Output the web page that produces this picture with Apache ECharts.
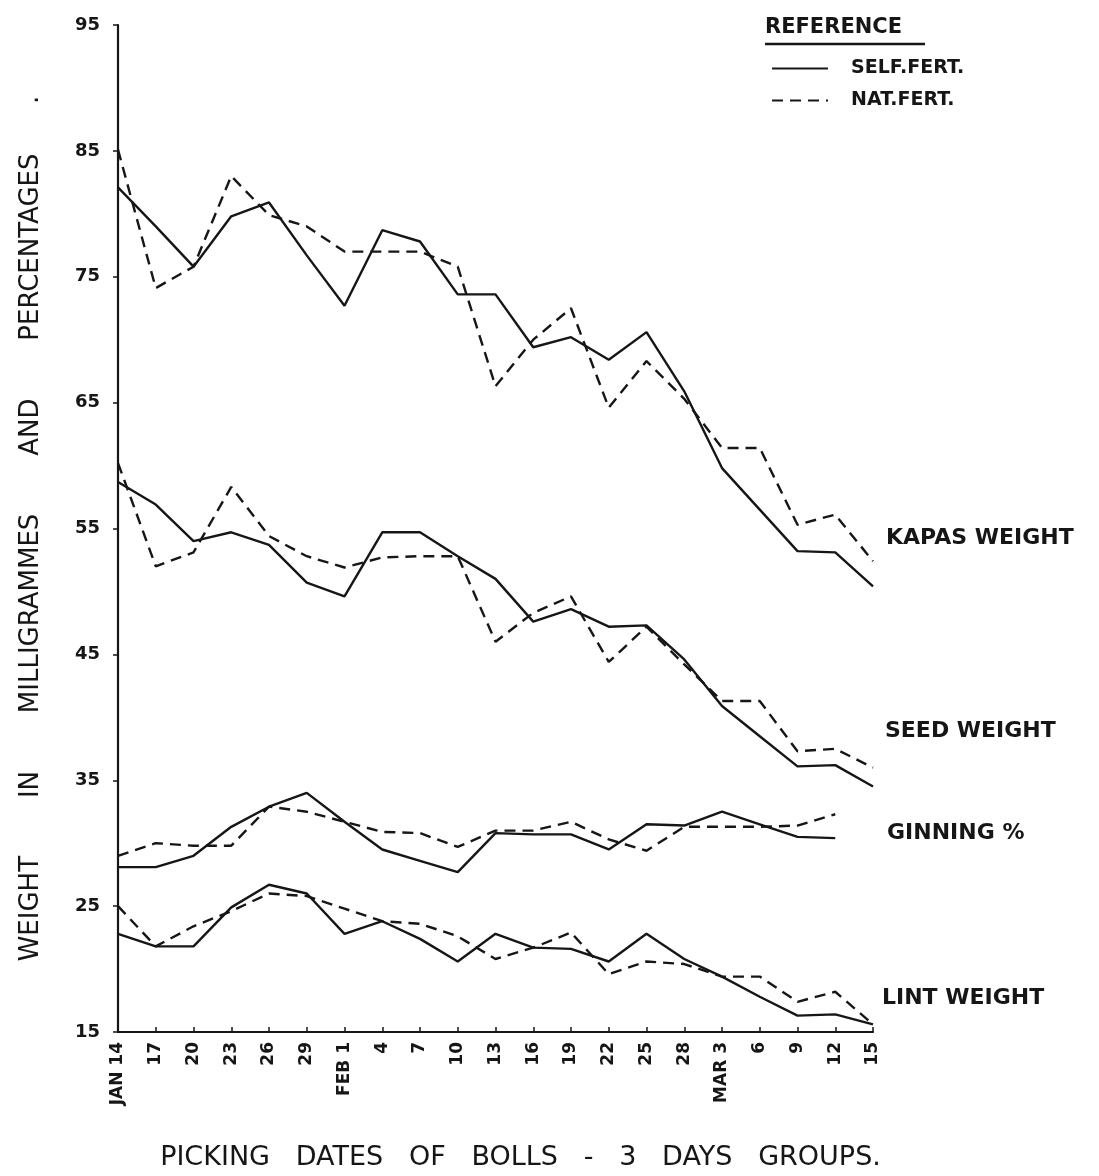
<!DOCTYPE html>
<html>
<head>
<meta charset="utf-8">
<script src="https://cdn.jsdelivr.net/npm/echarts@6/dist/echarts.min.js"></script>
<style>
  html, body { margin: 0; padding: 0; background: #fff; }
  #chart { width: 1099px; height: 1176px; }
</style>
</head>
<body>
<div id="chart"></div>
<script>
// ---- data ----
const categories = ['JAN 14','17','20','23','26','29','FEB 1','4','7','10','13','16','19','22','25','28','MAR 3','6','9','12','15'];
const yTicks = [15, 25, 35, 45, 55, 65, 75, 85, 95];

const kapasSelf = [82.1, 79.0, 75.8, 79.8, 80.9, 76.7, 72.7, 78.7, 77.8, 73.6, 73.6, 69.4, 70.2, 68.4, 70.6, 65.9, 59.8, 56.5, 53.2, 53.1, 50.4];
const kapasNat  = [85.1, 74.1, 75.8, 83.0, 79.9, 79.0, 77.0, 77.0, 77.0, 75.8, 66.3, 70.0, 72.5, 64.6, 68.3, 65.3, 61.4, 61.4, 55.3, 56.1, 52.4];

const seedSelf = [58.7, 56.9, 54.0, 54.7, 53.7, 50.7, 49.6, 54.7, 54.7, 52.8, 51.0, 47.6, 48.6, 47.2, 47.3, 44.6, 40.9, 38.5, 36.1, 36.2, 34.5];
const seedNat  = [60.2, 52.0, 53.1, 58.3, 54.4, 52.8, 51.9, 52.7, 52.8, 52.8, 46.0, 48.3, 49.6, 44.4, 47.2, 44.2, 41.3, 41.3, 37.3, 37.5, 36.0];

const ginningSelf = [28.1, 28.1, 29.0, 31.3, 32.9, 34.0, 31.7, 29.5, 28.6, 27.7, 30.8, 30.7, 30.7, 29.5, 31.5, 31.4, 32.5, 31.5, 30.5, 30.4];
const ginningNat  = [29.0, 30.0, 29.8, 29.8, 32.9, 32.5, 31.7, 30.9, 30.8, 29.7, 31.0, 31.0, 31.7, 30.3, 29.4, 31.3, 31.3, 31.3, 31.4, 32.3];

const lintSelf = [22.8, 21.8, 21.8, 24.9, 26.7, 26.0, 22.8, 23.8, 22.4, 20.6, 22.8, 21.7, 21.6, 20.6, 22.8, 20.8, 19.4, 17.8, 16.3, 16.4, 15.6];
const lintNat  = [25.0, 21.8, 23.4, 24.6, 26.0, 25.8, 24.8, 23.8, 23.6, 22.6, 20.8, 21.7, 22.9, 19.6, 20.6, 20.4, 19.4, 19.4, 17.4, 18.2, 15.6];

const selfName = 'SELF.FERT.';
const natName = 'NAT.FERT.';
const legendTitle = 'REFERENCE';
const curveLabels = ['KAPAS WEIGHT', 'SEED WEIGHT', 'GINNING %', 'LINT WEIGHT'];
const xTitle = 'PICKING   DATES   OF   BOLLS   -   3   DAYS   GROUPS.';
const yTitle = 'WEIGHT       IN       MILLIGRAMMES       AND       PERCENTAGES      .';

// ---- chart ----
const INK = '#161616';
const FONT = '"DejaVu Sans", "Liberation Sans", sans-serif';

function lineSeries(name, data, dashed) {
  return {
    name: name,
    type: 'line',
    data: data,
    symbol: 'none',
    smooth: false,
    lineStyle: { color: INK, width: 2.4, type: dashed ? [11, 7] : 'solid' },
    itemStyle: { color: INK },
    z: 3
  };
}

function label(text, left, cy, size) {
  return {
    type: 'text', left: left, top: cy - size * 0.6,
    style: { text: text, fill: INK, font: 'bold ' + size + 'px ' + FONT }
  };
}

const chart = echarts.init(document.getElementById('chart'), null, { renderer: 'canvas' });

const option = {
  backgroundColor: '#ffffff',
  animation: false,
  grid: { left: 118, top: 25, right: 226, bottom: 143, containLabel: false },
  legend: {
    data: [selfName, natName],
    orient: 'vertical',
    left: 766,
    top: 54,
    itemWidth: 56,
    itemHeight: 14,
    itemGap: 13,
    itemStyle: { opacity: 0 },
    textStyle: { color: INK, fontSize: 19, fontWeight: 'bold', fontFamily: FONT, padding: [0, 0, 0, 18] }
  },
  xAxis: {
    type: 'category',
    data: categories,
    boundaryGap: false,
    name: xTitle,
    nameLocation: 'middle',
    nameGap: 112,
    nameTextStyle: { color: INK, fontSize: 27, fontFamily: FONT, padding: [0, 0, 0, 50] },
    axisLine: { lineStyle: { color: INK, width: 2.2 } },
    axisTick: { show: true, inside: true, length: 5, alignWithLabel: true, lineStyle: { color: INK, width: 1.5 } },
    axisLabel: { rotate: 90, margin: 10, color: INK, fontSize: 17, fontWeight: 'bold', fontFamily: FONT, interval: 0 },
    splitLine: { show: false }
  },
  yAxis: {
    type: 'value',
    min: yTicks[0],
    max: yTicks[yTicks.length - 1],
    interval: yTicks[1] - yTicks[0],
    name: yTitle,
    nameLocation: 'middle',
    nameGap: 74,
    nameRotate: 90,
    nameTextStyle: { color: INK, fontSize: 26, fontFamily: FONT },
    axisLine: { show: true, lineStyle: { color: INK, width: 2.2 } },
    axisTick: { show: true, length: 5, lineStyle: { color: INK, width: 1.5 } },
    axisLabel: { margin: 18, color: INK, fontSize: 18, fontWeight: 'bold', fontFamily: FONT },
    splitLine: { show: false }
  },
  graphic: [
    label(legendTitle, 765, 30, 21),
    { type: 'line', shape: { x1: 765, y1: 44, x2: 925, y2: 44 }, style: { stroke: INK, lineWidth: 2.5 } },
    label(curveLabels[0], 886, 540, 22),
    label(curveLabels[1], 885, 733, 22),
    label(curveLabels[2], 887, 835, 22),
    label(curveLabels[3], 882, 1000, 22)
  ],
  series: [
    lineSeries(selfName, kapasSelf, false),
    lineSeries(natName, kapasNat, true),
    lineSeries(selfName, seedSelf, false),
    lineSeries(natName, seedNat, true),
    lineSeries(selfName, ginningSelf, false),
    lineSeries(natName, ginningNat, true),
    lineSeries(selfName, lintSelf, false),
    lineSeries(natName, lintNat, true)
  ]
};

chart.setOption(option);
</script>
</body>
</html>
